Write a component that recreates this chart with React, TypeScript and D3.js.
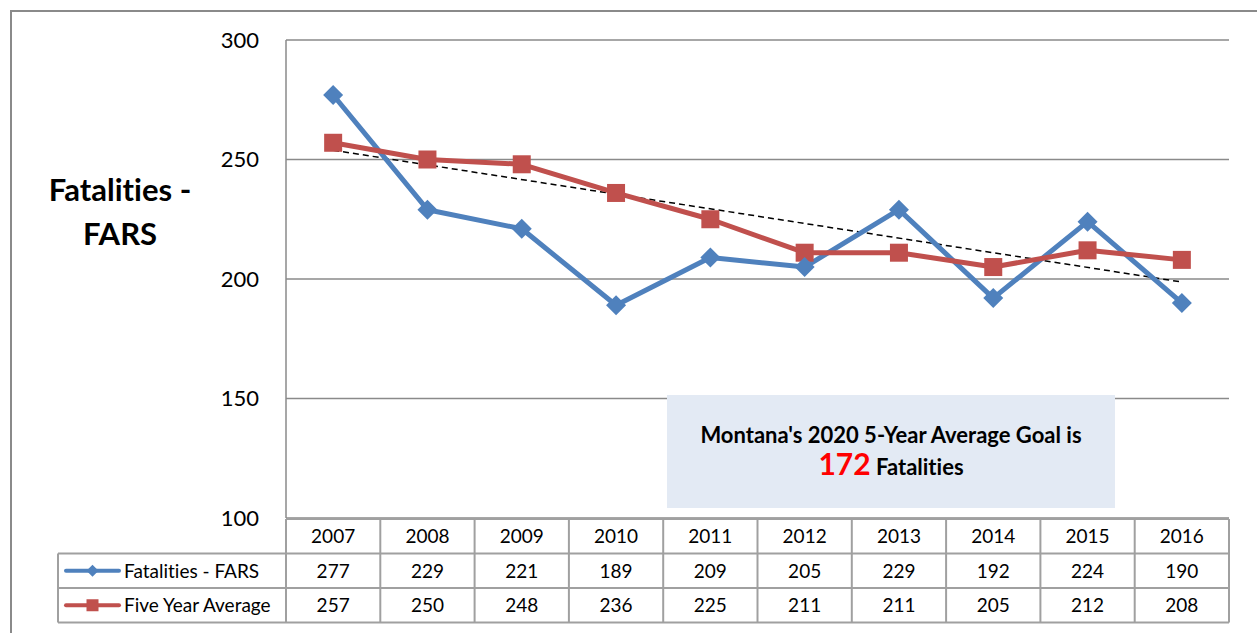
import React from 'react';
import * as d3 from 'd3';

const years = ['2007', '2008', '2009', '2010', '2011', '2012', '2013', '2014', '2015', '2016'];
const fatalities = [277, 229, 221, 189, 209, 205, 229, 192, 224, 190];
const fiveYearAvg = [257, 250, 248, 236, 225, 211, 211, 205, 212, 208];
const yTicks = [100, 150, 200, 250, 300];
const seriesNames = ['Fatalities - FARS', 'Five Year Average'];
const axisTitle = ['Fatalities -', 'FARS'];
const goalLine1 = "Montana's 2020 5-Year Average Goal is";
const goalValue = '172';
const goalUnit = 'Fatalities';

const W = 1257;
const H = 633;
const FONT = 'Lato, "Open Sans", sans-serif';
const BLUE = '#4F81BD';
const RED = '#C0504D';
const GRID = '#8a8a8a';
const TABLE = '#a0a0a0';

export default function App() {
  const plotLeft = 286, plotRight = 1229, plotTop = 40, plotBottom = 518;
  const x = d3.scaleBand<string>().domain(years).range([plotLeft, plotRight]);
  const y = d3.scaleLinear().domain([100, 300]).range([plotBottom, plotTop]);
  const cx = (yr: string) => (x(yr) as number) + x.bandwidth() / 2;

  const line = d3.line<number>()
    .x((_, i) => cx(years[i]))
    .y((d) => y(d));

  // linear trend of five-year average
  const n = fiveYearAvg.length;
  const mx = d3.mean(d3.range(n)) as number;
  const my = d3.mean(fiveYearAvg) as number;
  const sxy = d3.sum(fiveYearAvg, (v, i) => (i - mx) * (v - my));
  const sxx = d3.sum(d3.range(n), (i) => (i - mx) * (i - mx));
  const slope = sxy / sxx;
  const trend = (i: number) => my + slope * (i - mx);

  const rowTop = 519, rowH = 34.5;
  const legendLeft = 58;
  const tableBottom = rowTop + rowH * 3;

  const diamond = (px: number, py: number, r: number) =>
    `M${px},${py - r}L${px + r},${py}L${px},${py + r}L${px - r},${py}Z`;

  return (
    <svg width={W} height={H}
      style={{ position: 'absolute', left: 0, top: 0, background: '#fff', fontVariantLigatures: 'none' }}
      fontFamily={FONT}>
      <rect x={11} y={11} width={W + 20} height={H + 20} fill="#fff" stroke={GRID} strokeWidth={2} />

      {/* gridlines */}
      {yTicks.map((t) => (
        <line key={t} x1={plotLeft} x2={plotRight} y1={y(t)} y2={y(t)} stroke={GRID} strokeWidth={1.5} />
      ))}
      <line x1={plotLeft} x2={plotLeft} y1={plotTop} y2={plotBottom} stroke={GRID} strokeWidth={1.5} />

      {/* y tick labels */}
      {yTicks.map((t) => (
        <text key={t} x={259} y={y(t)} dy="0.36em" textAnchor="end" fontSize={22} fill="#000">{t}</text>
      ))}

      {/* axis title */}
      {axisTitle.map((s, i) => (
        <text key={s} x={120} y={190 + i * 44} dy="0.36em" textAnchor="middle" fontSize={31} fontWeight={700} fill="#000">{s}</text>
      ))}

      {/* goal box */}
      <rect x={667} y={395} width={448} height={113} fill="#E3EAF4" />
      <text x={891} y={435} dy="0.36em" textAnchor="middle" fontSize={22} fontWeight={700} fill="#000">{goalLine1}</text>
      <text x={891} y={469} dy="0.36em" textAnchor="middle" fontWeight={700} fill="#000">
        <tspan fontSize={30} fill="#FF0000">{goalValue}</tspan>
        <tspan fontSize={22}> {goalUnit}</tspan>
      </text>

      {/* trend line */}
      <line x1={cx(years[0])} x2={cx(years[n - 1])} y1={y(trend(0))} y2={y(trend(n - 1))}
        stroke="#000" strokeWidth={1.5} strokeDasharray="6,4" />

      {/* series */}
      <path d={line(fatalities) as string} fill="none" stroke={BLUE} strokeWidth={5} strokeLinejoin="round" />
      <path d={line(fiveYearAvg) as string} fill="none" stroke={RED} strokeWidth={5} strokeLinejoin="round" />
      {fiveYearAvg.map((v, i) => (
        <rect key={'s' + i} x={cx(years[i]) - 9} y={y(v) - 9} width={18} height={18} fill={RED} />
      ))}
      {fatalities.map((v, i) => (
        <path key={'d' + i} d={diamond(cx(years[i]), y(v), 10)} fill={BLUE} />
      ))}

      {/* data table */}
      <g stroke={TABLE} strokeWidth={2} fill="none">
        <line x1={plotLeft} x2={plotRight} y1={rowTop} y2={rowTop} />
        <line x1={legendLeft} x2={plotRight} y1={rowTop + rowH} y2={rowTop + rowH} />
        <line x1={legendLeft} x2={plotRight} y1={rowTop + rowH * 2} y2={rowTop + rowH * 2} />
        <line x1={legendLeft} x2={plotRight} y1={tableBottom} y2={tableBottom} />
        <line x1={legendLeft} x2={legendLeft} y1={rowTop + rowH} y2={tableBottom} />
        {years.map((yr) => (
          <line key={yr} x1={x(yr) as number} x2={x(yr) as number} y1={rowTop} y2={tableBottom} />
        ))}
        <line x1={plotRight} x2={plotRight} y1={rowTop} y2={tableBottom} />
      </g>
      {years.map((yr) => (
        <text key={yr} x={cx(yr)} y={rowTop + rowH / 2} dy="0.36em" textAnchor="middle" fontSize={19} fill="#000">{yr}</text>
      ))}
      {[fatalities, fiveYearAvg].map((arr, r) =>
        arr.map((v, i) => (
          <text key={r + '-' + i} x={cx(years[i])} y={rowTop + rowH * (r + 1.5)} dy="0.36em" textAnchor="middle" fontSize={19} fill="#000">{v}</text>
        ))
      )}
      {/* legend keys */}
      {seriesNames.map((s, r) => {
        const ly = rowTop + rowH * (r + 1.5);
        const color = r === 0 ? BLUE : RED;
        return (
          <g key={s}>
            <line x1={66} x2={119} y1={ly} y2={ly} stroke={color} strokeWidth={4} strokeLinecap="round" />
            {r === 0
              ? <path d={diamond(92.5, ly, 6)} fill={color} />
              : <rect x={86.5} y={ly - 6} width={12} height={12} fill={color} />}
            <text x={124} y={ly} dy="0.36em" fontSize={19} fill="#000">{s}</text>
          </g>
        );
      })}
    </svg>
  );
}
